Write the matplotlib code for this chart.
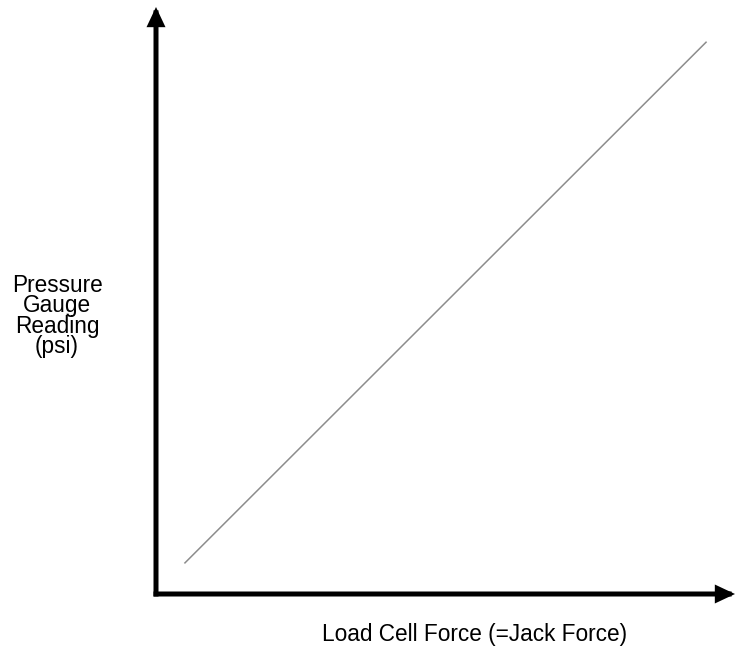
import matplotlib.pyplot as plt

plt.rcParams['font.family'] = ['Liberation Sans', 'DejaVu Sans']

# 压力表读数与千斤顶力的关系（示意，无刻度）
force = [0.05, 0.95]
pressure = [0.053, 0.94]
xlabel = 'Load Cell Force (=Jack Force)'
ylabel = 'Pressure\nGauge\nReading\n(psi)'

W, H = 735, 647
fig = plt.figure(figsize=(W / 100, H / 100), dpi=100)
# 坐标原点约在 (156, 594) 像素处
x0, y0 = 156, 594
ax = fig.add_axes([x0 / W, (H - y0) / H, (W - x0) / W, (y0 - 7) / H])
ax.set_xlim(0, 1)
ax.set_ylim(0, 1)
ax.axis('off')

ax.plot(force, pressure, color='#8c8c8c', lw=1.1)

# 带箭头的坐标轴
arrow = dict(arrowstyle='-|>,head_length=0.85,head_width=0.4', lw=3.6,
             color='black', shrinkA=0, shrinkB=0, joinstyle='miter',
             capstyle='projecting')
ax.annotate('', xy=(0, 1), xytext=(0, 0), xycoords='axes fraction',
            arrowprops=arrow, annotation_clip=False)
ax.annotate('', xy=(1, 0), xytext=(0, 0), xycoords='axes fraction',
            arrowprops=arrow, annotation_clip=False)

fig.text(57 / W, 1 - 316 / H, ylabel, ha='center', va='center',
         fontsize=16.3, linespacing=0.84)
fig.text(475 / W, 1 - 635 / H, xlabel, ha='center', va='center', fontsize=16.3)

fig.savefig('out.png', dpi=100)
